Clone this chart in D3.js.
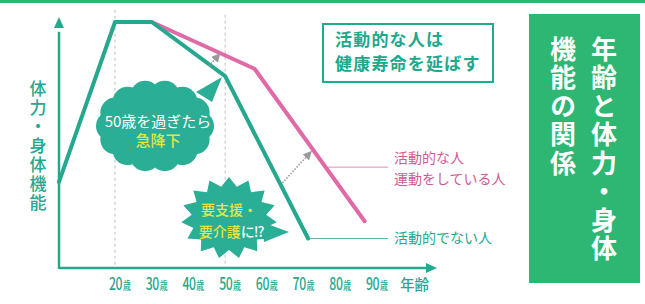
<!DOCTYPE html>
<html>
<head>
<meta charset="utf-8">
<script src="https://cdn.jsdelivr.net/npm/d3@7"></script>
<style>
  body { margin: 0; background: #fff; }
  svg { display: block; }
  text { font-family: 'Noto Sans CJK JP', sans-serif; }
</style>
</head>
<body>
<svg id="chart" width="645" height="304"></svg>
<script>
// data
const tickAges = [20, 30, 40, 50, 60, 70, 80, 90];
const guideAges = [20, 50];
const guideTops = [105, 103];
const inactiveAges = [4.75, 20, 30, 50, 72.6];
const inactiveFitness = [35, 100, 100, 78, 12];
const activeAges = [30, 58, 88];
const activeFitness = [100, 81, 19];
const arrowStart = [[45.6, 82], [65.6, 34.6]];
const arrowEnd = [[47.9, 86], [72.8, 46.3]];
const activeLabel = ['活動的な人', '運動をしている人'];
const inactiveLabel = '活動的でない人';
const yLabel = '体力・身体機能';
const xLabel = '年齢';
const boxLines = ['活動的な人は', '健康寿命を延ばす'];
const titleCols = ['年齢と体力・身体', '機能の関係'];

const teal = '#25a88e';
const pink = '#e06aa6';
const pinkText = '#cf5b96';
const yellow = '#e6e445';
const green = '#2eb673';

const svg = d3.select('#chart');

const x = d3.scaleLinear().domain([4.75, 107.7]).range([59, 437]);
const y = d3.scaleLinear().domain([0, 100]).range([268, 22]);

// top band
svg.append('rect').attr('x', 0).attr('y', 0).attr('width', 645).attr('height', 3).attr('fill', green);

// guide lines
svg.selectAll('.guide')
  .data(guideAges)
  .enter()
  .append('line')
  .attr('x1', d => x(d))
  .attr('x2', d => x(d))
  .attr('y1', (d, i) => y(guideTops[i]))
  .attr('y2', y(0))
  .attr('stroke', '#b9c2c2')
  .attr('stroke-width', 1)
  .attr('stroke-dasharray', '3,3');

// axes with arrow heads
const x0 = x(4.75);
const y0 = y(0);
svg.append('line').attr('x1', x0).attr('x2', x(105)).attr('y1', y0).attr('y2', y0)
  .attr('stroke', teal).attr('stroke-width', 2.5);
svg.append('line').attr('x1', x0).attr('x2', x0).attr('y1', y0 + 1).attr('y2', y(96))
  .attr('stroke', teal).attr('stroke-width', 2.5);
svg.append('path')
  .attr('d', `M${x(107.7)},${y0} L${x(107.7) - 11},${y0 - 5} L${x(107.7) - 11},${y0 + 5} Z`)
  .attr('fill', teal);
svg.append('path')
  .attr('d', `M${x0},${y(102)} L${x0 - 5},${y(102) + 11} L${x0 + 5},${y(102) + 11} Z`)
  .attr('fill', teal);

// tick labels (condensed numbers)
const ticks = svg.selectAll('.tick')
  .data(tickAges)
  .enter()
  .append('text')
  .attr('transform', d => `translate(${x(d) - 6},290) scale(0.72,1)`)
  .attr('fill', teal)
  .attr('font-weight', 500);
ticks.append('tspan').attr('font-size', 17).attr('letter-spacing', -0.5).text(d => d);
ticks.append('tspan').attr('font-size', 11).attr('dx', 1).text('歳');

svg.append('text')
  .attr('x', x(97.6))
  .attr('y', 290)
  .attr('fill', teal)
  .attr('font-size', 14.5)
  .attr('font-weight', 500)
  .text(xLabel);

// y label (vertical)
svg.append('text')
  .attr('x', 38)
  .attr('y', 80)
  .attr('fill', teal)
  .attr('font-size', 17)
  .attr('font-weight', 500)
  .attr('letter-spacing', 2)
  .style('writing-mode', 'vertical-rl')
  .style('text-orientation', 'upright')
  .text(yLabel);

// lines
const line = d3.line().x(d => x(d[0])).y(d => y(d[1]));
const inactive = inactiveAges.map((a, i) => [a, inactiveFitness[i]]);
const active = activeAges.map((a, i) => [a, activeFitness[i]]);

svg.append('path')
  .attr('d', line(active))
  .attr('fill', 'none')
  .attr('stroke', pink)
  .attr('stroke-width', 4)
  .attr('stroke-linejoin', 'round')
  .attr('stroke-linecap', 'round');
svg.append('path')
  .attr('d', line(inactive))
  .attr('fill', 'none')
  .attr('stroke', teal)
  .attr('stroke-width', 4)
  .attr('stroke-linejoin', 'round')
  .attr('stroke-linecap', 'round');

// dotted arrows
svg.append('defs').append('marker')
  .attr('id', 'head')
  .attr('viewBox', '0 0 10 10')
  .attr('refX', 5).attr('refY', 5)
  .attr('markerWidth', 9).attr('markerHeight', 9)
  .attr('markerUnits', 'userSpaceOnUse')
  .attr('orient', 'auto')
  .append('path')
  .attr('d', 'M0,0 L10,5 L0,10 Z')
  .attr('fill', '#9a9a9a');
svg.selectAll('.arrow')
  .data(arrowStart)
  .enter()
  .append('line')
  .attr('x1', d => x(d[0]))
  .attr('y1', d => y(d[1]))
  .attr('x2', (d, i) => x(arrowEnd[i][0]))
  .attr('y2', (d, i) => y(arrowEnd[i][1]))
  .attr('stroke', '#9a9a9a')
  .attr('stroke-width', 1.6)
  .attr('stroke-dasharray', '1.5,1.5')
  .attr('marker-end', 'url(#head)');

// legend leaders
const legendFit = 41;
const seg = d3.scaleLinear().domain([activeFitness[1], activeFitness[2]]).range([activeAges[1], activeAges[2]]);
svg.append('line')
  .attr('x1', x(seg(legendFit)) + 2).attr('x2', 388)
  .attr('y1', y(legendFit)).attr('y2', y(legendFit))
  .attr('stroke', pink).attr('stroke-width', 0.8);
const last = inactive[inactive.length - 1];
svg.append('line')
  .attr('x1', x(last[0]) + 2).attr('x2', 388)
  .attr('y1', y(last[1])).attr('y2', y(last[1]))
  .attr('stroke', teal).attr('stroke-width', 0.8);

svg.selectAll('.alabel')
  .data(activeLabel)
  .enter()
  .append('text')
  .attr('x', 394)
  .attr('y', (d, i) => 163 + i * 21)
  .attr('fill', pinkText)
  .attr('font-size', 14)
  .text(d => d);
svg.append('text')
  .attr('x', 394)
  .attr('y', y(last[1]) + 5)
  .attr('fill', teal)
  .attr('font-size', 14)
  .text(inactiveLabel);

// cloud bubble
const cloud = svg.append('g').attr('fill', '#2aae95');
cloud.append('ellipse').attr('cx', 155).attr('cy', 126).attr('rx', 50).attr('ry', 36);
cloud.selectAll('circle')
  .data(d3.range(14))
  .enter()
  .append('circle')
  .attr('cx', d => 155 + 44 * Math.cos(d / 14 * 2 * Math.PI))
  .attr('cy', d => 126 + 31 * Math.sin(d / 14 * 2 * Math.PI))
  .attr('r', 15);
cloud.append('path').attr('d', 'M196,92 L212,102 L222,77 Z');
svg.append('text')
  .attr('x', 158).attr('y', 127)
  .attr('text-anchor', 'middle')
  .attr('fill', '#fff')
  .attr('font-size', 15)
  .text('50歳を過ぎたら');
svg.append('text')
  .attr('x', 158).attr('y', 146)
  .attr('text-anchor', 'middle')
  .attr('fill', yellow)
  .attr('font-size', 15)
  .attr('font-weight', 500)
  .text('急降下');

// star bubble
const spikes = 15;
const starPts = d3.range(spikes * 2).map(k => {
  const a = k / (spikes * 2) * 2 * Math.PI - Math.PI / 2;
  const r = k % 2 === 0 ? 1 : 0.78;
  return [229 + 48 * r * Math.cos(a), 218 + 41 * r * Math.sin(a)];
});
svg.append('path')
  .attr('d', 'M' + starPts.join('L') + 'Z')
  .attr('fill', '#2aae95');
svg.append('path').attr('d', 'M262,222 L264,242 L289,232 Z').attr('fill', '#2aae95');
svg.append('text')
  .attr('x', 229).attr('y', 215)
  .attr('text-anchor', 'middle')
  .attr('fill', yellow)
  .attr('font-size', 14)
  .attr('font-weight', 500)
  .text('要支援・');
const t2 = svg.append('text')
  .attr('x', 231).attr('y', 237)
  .attr('text-anchor', 'middle')
  .attr('font-size', 14)
  .attr('font-weight', 500);
t2.append('tspan').attr('fill', yellow).text('要介護');
t2.append('tspan').attr('fill', '#fff').attr('letter-spacing', -1).text('に!?');

// message box
svg.append('rect')
  .attr('x', 323).attr('y', 24)
  .attr('width', 170).attr('height', 58)
  .attr('fill', '#fff')
  .attr('stroke', '#20ab8c')
  .attr('stroke-width', 2);
svg.selectAll('.box')
  .data(boxLines)
  .enter()
  .append('text')
  .attr('x', 335)
  .attr('y', (d, i) => 46 + i * 24)
  .attr('fill', '#20a88b')
  .attr('font-size', 17)
  .attr('font-weight', 700)
  .attr('letter-spacing', 1.2)
  .text(d => d);

// title panel
svg.append('rect')
  .attr('x', 529).attr('y', 14)
  .attr('width', 111).attr('height', 269)
  .attr('fill', green);
svg.selectAll('.title')
  .data(titleCols)
  .enter()
  .append('text')
  .attr('x', (d, i) => 604 - i * 41)
  .attr('y', 36)
  .attr('fill', '#fff')
  .attr('font-size', 26)
  .attr('font-weight', 700)
  .attr('letter-spacing', 2.5)
  .style('writing-mode', 'vertical-rl')
  .style('text-orientation', 'upright')
  .text(d => d);
</script>
</body>
</html>
